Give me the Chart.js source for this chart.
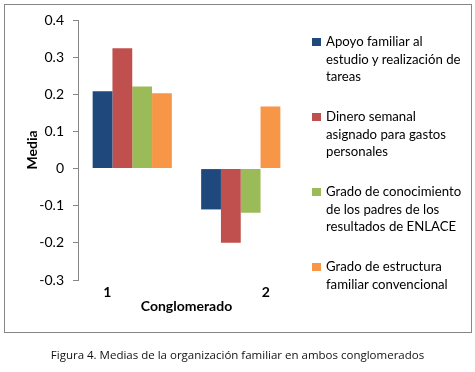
<!DOCTYPE html>
<html>
<head>
<meta charset="utf-8">
<script src="https://cdn.jsdelivr.net/npm/chart.js@4.4.0/dist/chart.umd.min.js"></script>
<style>
    body { margin: 0; width: 475px; height: 372px; background: #fff; position: relative; overflow: hidden; font-family: Lato, sans-serif; }
    .frame { position: absolute; left: 4px; top: 4px; width: 466px; height: 327px; border: 1px solid #868686; }
    #chart { position: absolute; left: 0; top: 0; }
    .legend { position: absolute; left: 312px; top: 0; }
    .legend-item { position: absolute; left: 0; width: 160px; font-size: 13.2px; line-height: 17.5px; color: #000; white-space: nowrap; }
    .legend-box { position: absolute; left: 0; top: 5px; width: 9px; height: 8px; }
    .legend-text { margin-left: 14px; display: block; }
    .caption { position: absolute; left: 0; width: 475px; top: 347px; text-align: center; font-family: 'Open Sans', sans-serif; font-size: 11.5px; color: #111; }
</style>
</head>
<body>
<div class="frame"></div>
<canvas id="chart" width="475" height="372"></canvas>
<div class="legend" id="legend"></div>
<div class="caption">Figura 4. Medias de la organización familiar en ambos conglomerados</div>
<script>
const categories = ['1', '2'];
const apoyo = [0.208, -0.11];
const dinero = [0.324, -0.2];
const conocimiento = [0.221, -0.119];
const estructura = [0.203, 0.167];
const yTickLabels = ['-0.3', '-0.2', '-0.1', '0', '0.1', '0.2', '0.3', '0.4'];

// series names, split the way the legend wraps them
const seriesNames = [
    ['Apoyo familiar al', 'estudio y realización de', 'tareas'],
    ['Dinero semanal', 'asignado para gastos', 'personales'],
    ['Grado de conocimiento', 'de los padres de los', 'resultados de ENLACE'],
    ['Grado de estructura', 'familiar convencional']
];
const seriesColors = ['#1F497D', '#C0504D', '#9BBB59', '#F79646'];

// Excel-style: the category labels sit off-centre under each group
const shiftedLabels = {
    id: 'shiftedLabels',
    afterDraw(chart) {
        const x = chart.scales.x;
        const ctx = chart.ctx;
        const shift = [-25, 25];
        ctx.save();
        ctx.font = 'bold 14px Lato';
        ctx.fillStyle = '#000';
        ctx.textAlign = 'center';
        ctx.textBaseline = 'middle';
        categories.forEach((c, i) => {
            ctx.fillText(c, x.getPixelForTick(i) + shift[i], 292);
        });
        ctx.restore();
    }
};

const datasets = [apoyo, dinero, conocimiento, estructura].map((d, i) => ({
    label: seriesNames[i].join(' '),
    data: d,
    backgroundColor: seriesColors[i],
    borderWidth: 0,
    barPercentage: 1.0,
    categoryPercentage: 0.73
}));

const chart = new Chart(document.getElementById('chart'), {
    type: 'bar',
    data: { labels: categories, datasets: datasets },
    plugins: [shiftedLabels],
    options: {
        responsive: false,
        animation: false,
        layout: { padding: { left: 20, top: 20, right: 180, bottom: 53 } },
        plugins: {
            legend: { display: false },
            tooltip: { enabled: false }
        },
        scales: {
            x: {
                grid: { display: false },
                border: { display: false },
                ticks: { display: false },
                title: {
                    display: true,
                    text: 'Conglomerado',
                    color: '#000',
                    font: { family: 'Lato', size: 14, weight: 'bold' },
                    padding: { top: 0, bottom: 4 }
                },
                afterFit: scale => { scale.height = 39; }
            },
            y: {
                min: -0.3,
                max: 0.4,
                ticks: {
                    stepSize: 0.1,
                    color: '#000',
                    padding: 9,
                    font: { family: 'Lato', size: 14 },
                    callback: (v, i) => yTickLabels[i]
                },
                grid: { drawOnChartArea: false, tickLength: 5, color: '#868686' },
                border: { color: '#868686' },
                title: {
                    display: true,
                    text: 'Media',
                    color: '#000',
                    font: { family: 'Lato', size: 14, weight: 'bold' }
                },
                afterFit: scale => { scale.width = 58; }
            }
        }
    }
});

const legendTops = [33, 108, 183, 258];
const legendEl = document.getElementById('legend');
datasets.forEach((ds, i) => {
    const item = document.createElement('div');
    item.className = 'legend-item';
    item.style.top = legendTops[i] + 'px';
    item.innerHTML = `<span class="legend-box" style="background:${ds.backgroundColor}"></span>` +
        `<span class="legend-text">${seriesNames[i].join('<br>')}</span>`;
    legendEl.appendChild(item);
});
</script>
</body>
</html>
